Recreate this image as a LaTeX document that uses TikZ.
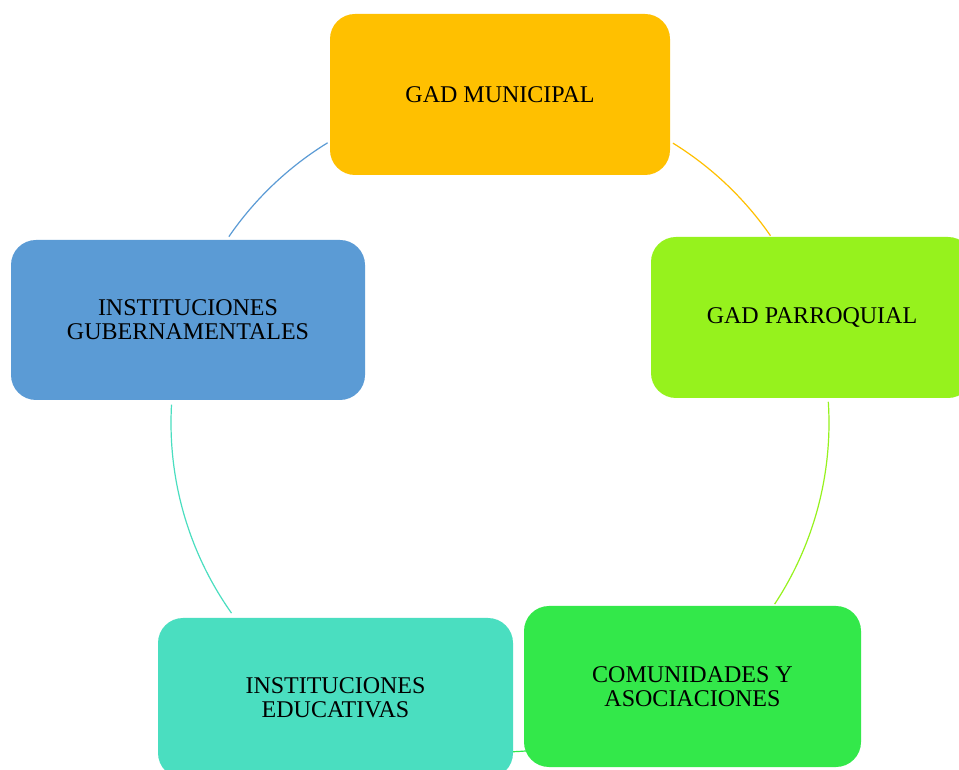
\documentclass[tikz,border=0pt]{standalone}
\usepackage{fontspec}
\setmainfont{Liberation Serif}
\definecolor{cOrange}{HTML}{FFC000}
\definecolor{cLime}{HTML}{96F21D}
\definecolor{cGreen}{HTML}{33E84A}
\definecolor{cTeal}{HTML}{4ADEC0}
\definecolor{cBlue}{HTML}{5B9BD5}
\tikzset{
  box/.style={rounded corners=25pt, inner sep=0pt, align=center,
    font=\fontsize{24}{24}\selectfont, text=black},
  link/.style={line width=1.2pt},
}
\begin{document}
\begin{tikzpicture}[x=1pt,y=1pt]
\useasboundingbox (0,0) rectangle (959,769);
\clip (0,0) rectangle (959,769);
\fill[white] (0,0) rectangle (959,769);
\coordinate (c) at (500,346);
% connectors (arcs of the cycle)
\draw[link,cBlue]   ([shift={(145.5:329pt)}]c) arc[start angle=145.5, end angle=121.6, radius=329pt];
\draw[link,cOrange] ([shift={(58.3:329pt)}]c) arc[start angle=58.3, end angle=34.7, radius=329pt];
\draw[link,cLime]   ([shift={(3.7:329pt)}]c) arc[start angle=3.7, end angle=-33.4, radius=329pt];
\draw[link,cGreen]  ([shift={(-60:329pt)}]c) arc[start angle=-60, end angle=-120, radius=329pt];
\draw[link,cTeal]   ([shift={(215.3:329pt)}]c) arc[start angle=215.3, end angle=176.8, radius=329pt];
% boxes
\node[box, fill=cOrange, minimum width=340pt, minimum height=161pt] (mun) at (500,674.5) {GAD MUNICIPAL};
\node[box, fill=cLime, minimum width=322pt, minimum height=161pt] (par) at (812,451.5) {GAD PARROQUIAL};
\node[box, fill=cGreen, minimum width=337pt, minimum height=161pt] (com) at (692.5,82.5) {COMUNIDADES Y\\ASOCIACIONES};
\node[box, fill=cTeal, minimum width=355pt, minimum height=160pt] (edu) at (335.5,71) {INSTITUCIONES\\EDUCATIVAS};
\node[box, fill=cBlue, minimum width=354pt, minimum height=160pt] (gub) at (188,449) {INSTITUCIONES\\GUBERNAMENTALES};
\end{tikzpicture}
\end{document}
